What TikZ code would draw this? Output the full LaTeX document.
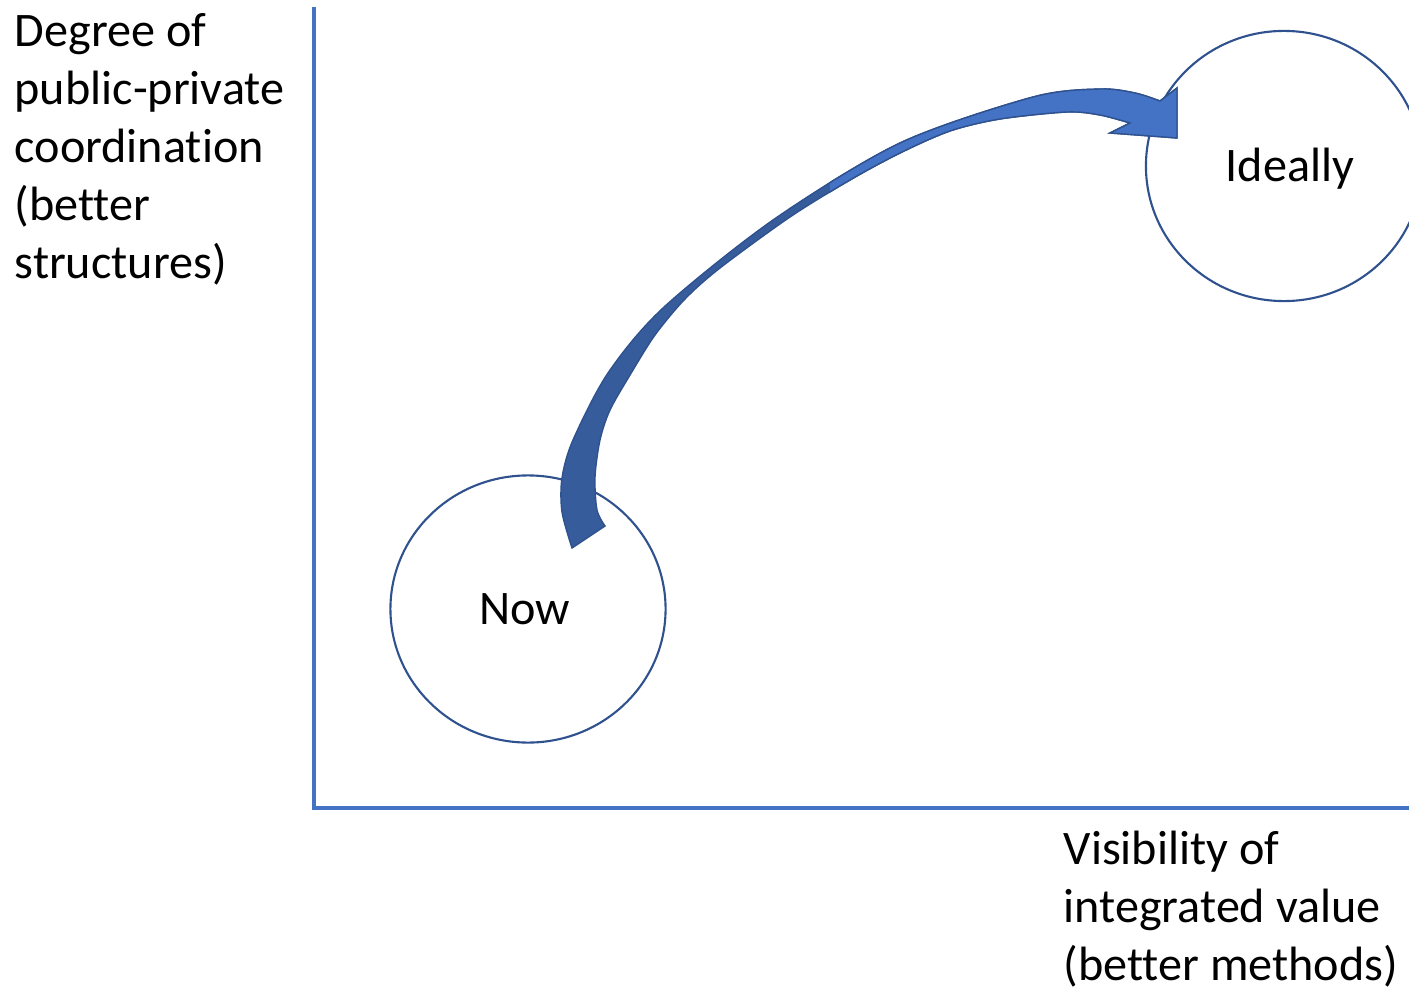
\documentclass[tikz,border=0pt]{standalone}
\usepackage{fontspec}
\setmainfont{Carlito}[Ligatures=CommonOff]
\usetikzlibrary{shapes.geometric}
\definecolor{achse}{HTML}{4472C4}
\definecolor{rand}{HTML}{2F528F}
\definecolor{pfeilhell}{HTML}{4472C4}
\definecolor{pfeildunkel}{HTML}{365C9C}
% Umriss des gebogenen Pfeils (aussen hin, innen zurueck)
\def\pfeilpfad{plot[smooth] coordinates {(572,548) (562,512) (562,478) (573,440)
    (608,373) (663,308) (773,220) (900,143) (1033,97) (1100,89) (1135,93) (1160,101)}
  -- (1177,88) -- (1177,138) -- (1110,133)
  -- plot[smooth] coordinates {(1130,123) (1100,115) (1067,112) (1000,119)
    (950,131) (900,153) (850,180) (790,217) (720,268) (685,299) (655,335)
    (630,375) (610,410) (600,440) (595,477) (597,510) (605,526)}
  -- cycle}
\begin{document}
\begin{tikzpicture}[x=0.01cm,y=-0.01cm,
    every node/.style={font=\fontsize{13.7pt}{16.5pt}\selectfont},
    zustand/.style={draw=rand,line width=0.6pt,ellipse,inner sep=0pt}]
  \useasboundingbox (0,0) rectangle (1409,988);
  % Achsen
  \draw[achse,line width=1.2pt] (314,7) -- (314,808) -- (1409,808);
  \node[anchor=north west,align=left,inner sep=0pt] (ylabel) at (14,13)
    {Degree of\\public-private\\coordination\\(better\\structures)};
  \node[anchor=north west,align=left,inner sep=0pt] (xlabel) at (1063,830)
    {Visibility of\\integrated value\\(better methods)};
  % Zustaende
  \node[zustand,minimum width=2.75cm,minimum height=2.67cm] (now) at (528,609) {};
  \node (nowlabel) at (525,609) {Now};
  \node[zustand,minimum width=2.76cm,minimum height=2.70cm] (ideal) at (1284,166) {};
  \node (ideallabel) at (1290,169) {Ideally};
  % Pfeil: hinterer Teil dunkel, vorderer Teil hell
  \filldraw[fill=pfeildunkel,draw=rand,line width=0.4pt] \pfeilpfad;
  \begin{scope}
    \clip (830,0) rectangle (1409,400);
    \filldraw[fill=pfeilhell,draw=rand,line width=0.4pt] \pfeilpfad;
  \end{scope}
\end{tikzpicture}
\end{document}
